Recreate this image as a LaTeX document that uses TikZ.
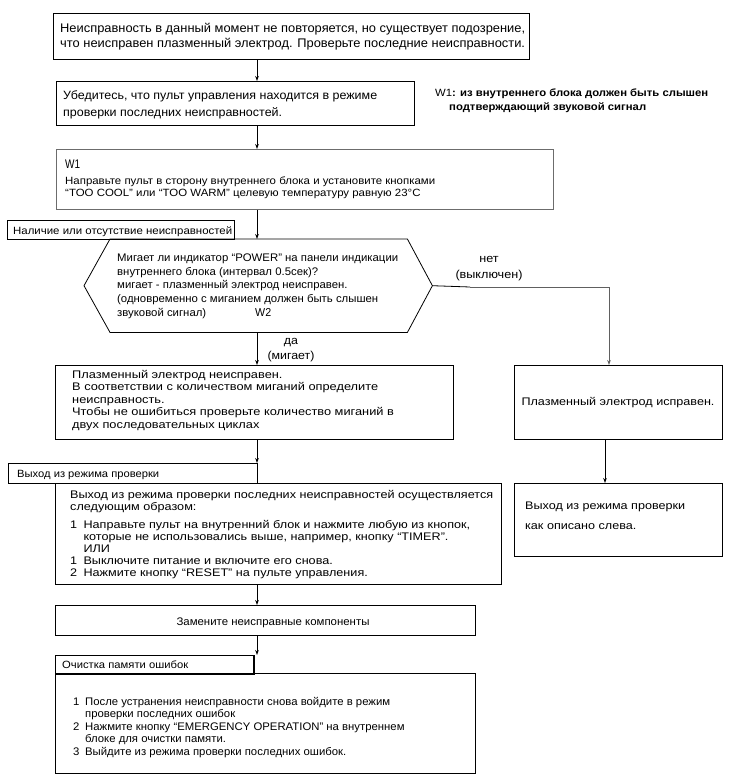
\documentclass[tikz,border=0pt]{standalone}
\usepackage{fontspec}
\setmainfont{Liberation Sans}
\usepackage{graphicx}
\usetikzlibrary{arrows.meta,calc}
\newlength\reflen
% #1 column alignment, #2 font, #3 target width of reference line, #4 reference line, #5 content
\newcommand\blk[5][l]{\begingroup#2\settowidth\reflen{#4}\pgfmathsetmacro\sfac{#3/\reflen}\scalebox{\sfac}[1]{\begin{tabular}[t]{@{}#1@{}}#5\end{tabular}}\endgroup}
\newcommand\fz[2]{\fontsize{#1}{#2}\selectfont}
\begin{document}
\begin{tikzpicture}[x=1pt,y=-1pt,
  box/.style={draw, line width=0.9pt, inner sep=0, anchor=north west},
  txt/.style={inner sep=0, anchor=base west},
  ctxt/.style={inner sep=0, anchor=base},
  arr/.style={-{Stealth[length=5pt,width=3.6pt]}, line width=0.8pt},
  conn/.style={line width=0.8pt}]
\useasboundingbox (0,0) rectangle (730,779);
% axes for connectors
\coordinate (ax) at (257,0);
\coordinate (axr) at (609,287);
\coordinate (axr2) at (605,0);
\coordinate (kink) at (470,287);
% boxes
\node[box, minimum width=476, minimum height=46] (b1) at (53,13) {};
\node[box, minimum width=358, minimum height=44] (b2) at (56,81) {};
\node[box, draw=gray!85!black, minimum width=497, minimum height=60] (wb) at (56,149) {};
\node[box, minimum width=227, minimum height=19] (lab1) at (7,220) {};
\node[inner sep=0, anchor=north west, minimum width=348, minimum height=93] (hex) at (84,239) {};
\draw[conn] ($(hex.north west)+(26,0)$) -- ($(hex.north east)+(-25,0)$) -- (hex.east)
  -- ($(hex.south east)+(-25,0)$) -- ($(hex.south west)+(26,0)$) -- (hex.west) -- cycle;
\node[box, minimum width=398, minimum height=74] (b3) at (55,365) {};
\node[box, minimum width=208, minimum height=74] (rb1) at (514,365) {};
\node[box, minimum width=208, minimum height=73] (rb2) at (514,483) {};
\node[box, minimum width=249, minimum height=20] (lab2) at (8,463) {};
\node[box, minimum width=446, minimum height=101] (b4) at (55,483) {};
\node[box, minimum width=420, minimum height=30] (b5) at (55,605) {};
\node[box, minimum width=198, minimum height=18] (lab3) at (55,655) {};
\draw[line width=1.8pt] (lab3.north east) -- (lab3.south east) -- (lab3.south west);
\node[box, minimum width=420, minimum height=100] (b6) at (55,673) {};
% texts
\node[txt] (t1) at (60,32.8) {\blk{\fz{12.5}{14.5}}{465}{Неисправность в данный момент не повторяется, но существует подозрение,}{Неисправность в данный момент не повторяется, но существует подозрение,\\ что неисправен плазменный электрод. Проверьте последние неисправности.}};
\node[txt] (t2) at (63,99.6) {\blk{\fz{12}{17}}{314}{Убедитесь, что пульт управления находится в режиме}{Убедитесь, что пульт управления находится в режиме\\ проверки последних неисправностей.}};
\node[txt] (tn) at (435,96.4) {\blk{\fz{10.5}{14}}{273}{W1\textbf{: из внутреннего блока должен быть слышен}}{W1\textbf{: из внутреннего блока должен быть слышен}\\ \hspace*{13pt}\textbf{подтверждающий звуковой сигнал}}};
\node[txt] (tw1) at (65,168.5) {\blk{\fz{12.5}{13}}{15}{W1}{W1}};
\node[txt] (tw) at (65,184.2) {\blk{\fz{10.5}{12}}{370}{Направьте пульт в сторону внутреннего блока и установите кнопками}{Направьте пульт в сторону внутреннего блока и установите кнопками\\ “TOO COOL” или “TOO WARM” целевую температуру равную 23°C}};
\node[txt] (tl1) at (13,234.2) {\blk{\fz{10.5}{12}}{219}{Наличие или отсутствие неисправностей}{Наличие или отсутствие неисправностей}};
\node[txt] (th) at (117,261.3) {\blk{\fz{11}{13.75}}{281}{Мигает ли индикатор “POWER” на панели индикации}{Мигает ли индикатор “POWER” на панели индикации\\ внутреннего блока (интервал 0.5сек)?\\ мигает - плазменный электрод неисправен.\\ (одновременно с миганием должен быть слышен\\ звуковой сигнал)}};
\node[txt] (tw2) at (255,316.3) {\blk{\fz{11.5}{13}}{16}{W2}{W2}};
\node[ctxt] (tno) at (489,262.5) {\blk[c]{\fz{11.5}{16}}{67}{(выключен)}{нет\\ (выключен)}};
\node[ctxt] (tyes) at (291,344.5) {\blk[c]{\fz{11.5}{15}}{47}{(мигает)}{да\\ (мигает)}};
\node[txt] (t3) at (72,378.3) {\blk{\fz{11}{12.5}}{306}{В соответствии с количеством миганий определите}{Плазменный электрод неисправен.\\ В соответствии с количеством миганий определите\\ неисправность.\\ Чтобы не ошибиться проверьте количество миганий в\\ двух последовательных циклах}};
\node[ctxt] (tr1) at (618,405.5) {\blk{\fz{11}{13}}{193}{Плазменный электрод исправен.}{Плазменный электрод исправен.}};
\node[txt] (tr2) at (525,509.3) {\blk{\fz{11}{20}}{160}{Выход из режима проверки}{Выход из режима проверки\\ как описано слева.}};
\node[txt] (tl2) at (17,477.3) {\blk{\fz{10.5}{12}}{142}{Выход из режима проверки}{Выход из режима проверки}};
\node[txt] (t4) at (70,498.3) {\blk{\fz{11}{12}}{423}{Выход из режима проверки последних неисправностей осуществляется}{Выход из режима проверки последних неисправностей осуществляется\\ следующим образом:\\[6pt] 1\enspace Направьте пульт на внутренний блок и нажмите любую из кнопок,\\ \hphantom{1\enspace}которые не использовались выше, например, кнопку “TIMER”.\\ \hphantom{1\enspace}ИЛИ\\ 1\enspace Выключите питание и включите его снова.\\ 2\enspace Нажмите кнопку “RESET” на пульте управления.}};
\node[ctxt] (t5) at (273,625.3) {\blk{\fz{11}{13}}{193}{Замените неисправные компоненты}{Замените неисправные компоненты}};
\node[txt] (tl3) at (62,668.2) {\blk{\fz{10.5}{12}}{126}{Очистка памяти ошибок}{Очистка памяти ошибок}};
\node[txt] (t6) at (73,705.3) {\blk{\fz{11}{12.5}}{317}{1\enspace После устранения неисправности снова войдите в режим}{1\enspace После устранения неисправности снова войдите в режим\\ \hphantom{1\enspace}проверки последних ошибок\\ 2\enspace Нажмите кнопку “EMERGENCY OPERATION” на внутреннем\\ \hphantom{2\enspace}блоке для очистки памяти.\\ 3\enspace Выйдите из режима проверки последних ошибок.}};
% connectors
\draw[arr] (b1.south -| ax) -- (b2.north -| ax);
\draw[arr] (b2.south -| ax) -- (wb.north -| ax);
\draw[arr] (wb.south -| ax) -- (hex.north -| ax);
\draw[arr] (hex.south -| ax) -- (b3.north -| ax);
\draw[conn] (hex.east) -- (kink);
\draw[arr, draw=gray!75!black] (kink) -- (axr) -- (rb1.north -| axr);
\draw[arr] (rb1.south -| axr2) -- (rb2.north -| axr2);
\draw[arr] (b3.south -| ax) -- (lab2.north -| ax);
\draw[arr] (b4.south -| ax) -- (b5.north -| ax);
\draw[arr] (b5.south -| ax) -- (lab3.north -| ax);
\end{tikzpicture}
\end{document}
